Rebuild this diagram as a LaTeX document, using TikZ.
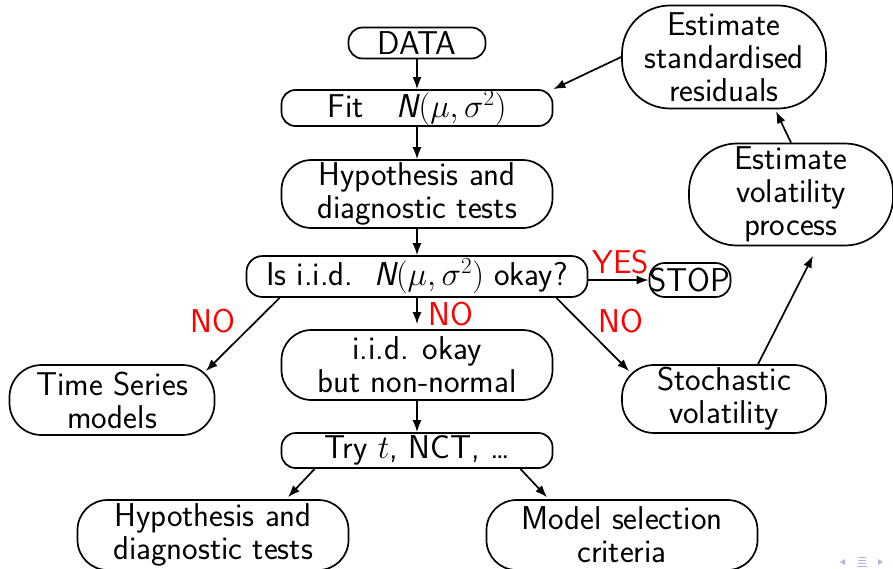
\RequirePackage{fix-cm}
\documentclass[tikz,border=0pt]{standalone}
\usepackage{fontspec}
\usetikzlibrary{arrows.meta,calc}
\definecolor{navblue}{RGB}{172,186,214}
\tikzset{
  box/.style={draw, line width=1.7pt, rounded corners=#1, inner sep=0pt, align=center,
    font=\sffamily\fontsize{33}{33}\selectfont},
  lbl/.style={text=red, inner sep=0pt, anchor=base, font=\sffamily\fontsize{33}{33}\selectfont},
  arr/.style={line width=1.7pt, -{Latex[length=12pt,width=9pt]}},
}
\begin{document}
\begin{tikzpicture}[x=1pt,y=-1pt]
\useasboundingbox (0,0) rectangle (893,568);
\node[box=14, minimum width=137, minimum height=31] (data) at (417,43) {DATA};
\node[box=14, minimum width=271, minimum height=36] (fit) at (417,108) {Fit\quad{\itshape N}$(\mu,\sigma^2)$};
\node[box=30, minimum width=271, minimum height=68] (hyp1) at (417,194) {Hypothesis and\\diagnostic tests};
\node[box=16, minimum width=341, minimum height=41] (is) at (417,276.5) {Is i.i.d.\ \ {\itshape N}$(\mu,\sigma^2)$ okay?};
\node[box=15, minimum width=70, minimum height=34] (stop) at (690,280) {STOP};
\node[box=30, minimum width=271, minimum height=70] (iid) at (417,365) {i.i.d. okay\\but non-normal};
\node[box=32, minimum width=205, minimum height=70] (ts) at (112,400) {Time Series\\models};
\node[box=32, minimum width=204, minimum height=68] (sto) at (724,399) {Stochastic\\volatility};
\node[box=14, minimum width=271, minimum height=35] (try) at (417,450.5) {Try $t$, NCT, \ldots};
\node[box=30, minimum width=271, minimum height=70] (hyp2) at (213,535) {Hypothesis and\\diagnostic tests};
\node[box=30, minimum width=271, minimum height=70] (model) at (622,535) {Model selection\\criteria};
\node[box=48, minimum width=204, minimum height=103] (std) at (724,57) {Estimate\\standardised\\residuals};
\node[box=48, minimum width=204, minimum height=102] (vol) at (791,194.5) {Estimate\\volatility\\process};

\node[lbl] (yes) at (621,273) {YES};
\node[lbl] (no1) at (213,332) {NO};
\node[lbl] (no2) at (451,325) {NO};
\node[lbl] (no3) at (621,332) {NO};

\draw[arr] (data) -- (fit);
\draw[arr] (fit) -- (hyp1);
\draw[arr] (hyp1) -- (is);
\draw[arr] (stop.west -| is.east) -- (stop.west);
\draw[arr, shorten >=5pt] (is) -- (iid);
\draw[arr] (iid) -- (try);
\draw[arr] ($(is.south west)+(34,0)$) -- ($(ts.north east)+(-9.5,7)$);
\draw[arr] ($(is.south east)+(-32,0)$) -- ($(sto.north west)+(8,7)$);
\draw[arr] ($(sto.north)+(34,0)$) -- ($(vol.south)+(22,9.5)$);
\draw[arr] (vol.north) -- ($(std.south)+(52,2)$);
\draw[arr] (std.west) -- (fit.north east);
\draw[arr] ($(try.south west)+(34,0)$) -- ($(hyp2.north)+(75,-2)$);
\draw[arr] ($(try.south east)+(-33,0)$) -- ($(model.north)+(-75,-2)$);

% navigation symbols
\fill[navblue] (840,562) -- (845,559) -- (845,565) -- cycle;
\draw[navblue, line width=1pt] (858,557) -- (866,557) (858,560) -- (866,560) (858,563) -- (866,563) (857,566) -- (867,566);
\fill[navblue] (883,562) -- (878,559) -- (878,565) -- cycle;
\end{tikzpicture}
\end{document}
